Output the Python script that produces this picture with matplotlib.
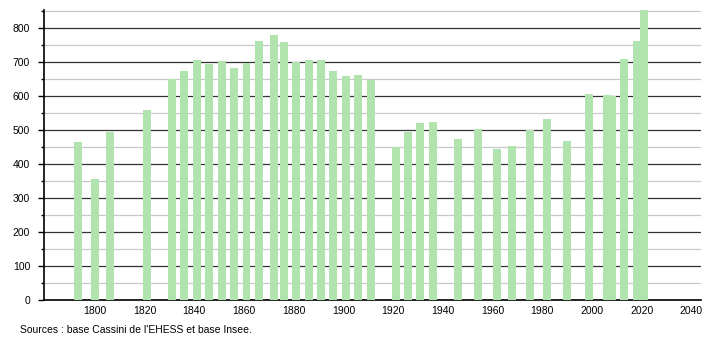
import matplotlib
matplotlib.use("Agg")
import matplotlib.pyplot as plt
from matplotlib.ticker import MultipleLocator

years = [1793, 1800, 1806, 1821, 1831, 1836, 1841, 1846, 1851, 1856, 1861, 1866,
         1872, 1876, 1881, 1886, 1891, 1896, 1901, 1906, 1911, 1921, 1926, 1931,
         1936, 1946, 1954, 1962, 1968, 1975, 1982, 1990, 1999, 2006, 2008, 2013,
         2018, 2021]
population = [465, 356, 495, 560, 650, 674, 708, 695, 704, 683, 699, 763,
              780, 759, 700, 708, 708, 674, 660, 662, 648, 450, 495, 521,
              524, 474, 504, 445, 454, 500, 532, 468, 607, 604, 600, 711,
              763, 853]
x_ticks = [1800, 1820, 1840, 1860, 1880, 1900, 1920, 1940, 1960, 1980, 2000, 2020, 2040]
source_text = "Sources : base Cassini de l'EHESS et base Insee."

plt.rcParams['font.family'] = ['Liberation Sans', 'DejaVu Sans']

fig = plt.figure(figsize=(7.1, 3.4), dpi=100)
ax = fig.add_axes([44 / 710, 1 - 300 / 340, (700.7 - 44) / 710, 290 / 340])

ax.bar(years, population, width=3.2, color='#b0e3ad', zorder=3, linewidth=0)

ax.set_xlim(1779.5, 2043.8)
ax.set_ylim(0, 854)

ax.yaxis.set_major_locator(MultipleLocator(100))
ax.yaxis.set_minor_locator(MultipleLocator(50))
ax.grid(which='major', axis='y', color='#333333', linewidth=0.9, zorder=1)
ax.grid(which='minor', axis='y', color='#c8c8c8', linewidth=0.9, zorder=1)
ax.set_xticks(x_ticks)

for s in ['top', 'right']:
    ax.spines[s].set_visible(False)
ax.spines['left'].set_color('black')
ax.spines['left'].set_linewidth(1.2)
ax.spines['bottom'].set_color('black')
ax.spines['bottom'].set_linewidth(1.2)

ax.tick_params(axis='y', which='major', length=4, width=1, direction='out',
               labelsize=7.5, pad=6, color='black')
ax.tick_params(axis='y', which='minor', length=2, width=1, direction='out', color='black')
ax.tick_params(axis='x', length=0, labelsize=7.5, pad=4)

fig.text(20 / 710, 1 - 330 / 340, source_text, fontsize=7.5, va='center', ha='left')

fig.savefig('out.png', dpi=100)
